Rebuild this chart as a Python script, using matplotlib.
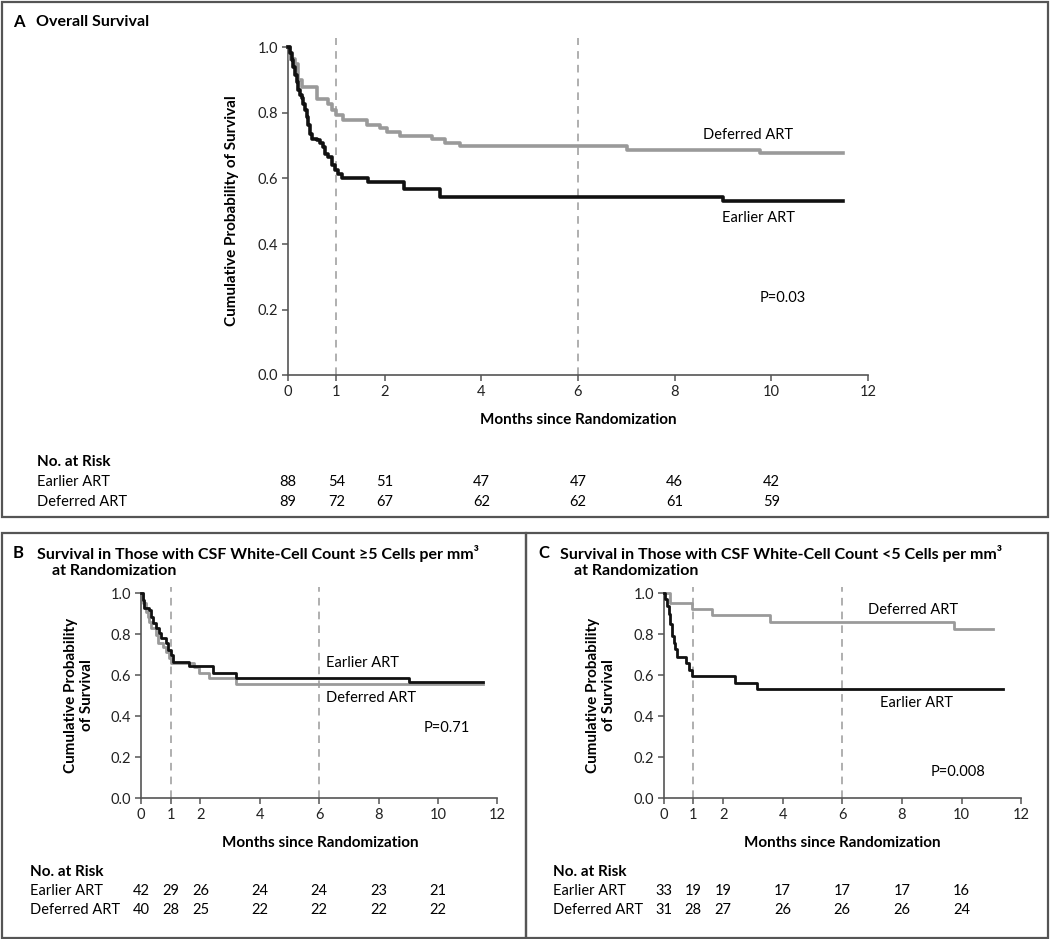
import numpy as np
import matplotlib.pyplot as plt
from matplotlib.patches import Rectangle
from matplotlib import transforms

plt.rcParams['font.family'] = ['Lato', 'DejaVu Sans']

# ---- data (months, survival probability) ----
# Panel A, overall
a_early_t = [0, 0.04, 0.076, 0.11, 0.145, 0.18, 0.214, 0.248, 0.283, 0.317, 0.352, 0.386, 0.421,
             0.455, 0.49, 0.593, 0.662, 0.731, 0.766, 0.834, 0.903, 0.972, 1.041, 1.12, 1.66,
             2.39, 3.15, 9.01, 11.49]
a_early_s = [1.0, 0.982, 0.961, 0.941, 0.916, 0.895, 0.870, 0.854, 0.847, 0.829, 0.809, 0.788, 0.763,
             0.737, 0.722, 0.717, 0.707, 0.697, 0.676, 0.666, 0.641, 0.625, 0.615, 0.600, 0.590,
             0.567, 0.544, 0.532, 0.532]
a_def_t = [0, 0.04, 0.145, 0.21, 0.28, 0.59, 0.83, 0.9, 1.0, 1.14, 1.63, 1.9, 2.04, 2.32, 2.97,
           3.25, 3.56, 7.01, 9.77, 11.49]
a_def_s = [1.0, 0.966, 0.951, 0.900, 0.878, 0.844, 0.829, 0.809, 0.793, 0.778, 0.763, 0.753, 0.742,
           0.729, 0.722, 0.709, 0.699, 0.687, 0.677, 0.677]

# Panel B, CSF WBC >= 5
b_early_t = [0, 0.056, 0.112, 0.28, 0.337, 0.393, 0.505, 0.617, 0.673, 0.842, 0.898, 1.01, 1.066,
             1.63, 2.41, 3.2, 9.03, 11.5]
b_early_s = [1.0, 0.967, 0.927, 0.919, 0.886, 0.854, 0.829, 0.805, 0.780, 0.756, 0.724, 0.699, 0.667,
             0.645, 0.613, 0.589, 0.566, 0.566]
b_def_t = [0, 0.079, 0.168, 0.224, 0.28, 0.337, 0.505, 0.561, 0.73, 0.842, 0.954, 1.01, 1.8, 1.96,
           2.3, 3.2, 11.5]
b_def_s = [1.0, 0.951, 0.911, 0.886, 0.862, 0.829, 0.797, 0.756, 0.740, 0.715, 0.683, 0.659, 0.639,
           0.610, 0.585, 0.556, 0.556]

# Panel C, CSF WBC < 5
c_early_t = [0, 0.05, 0.11, 0.17, 0.22, 0.28, 0.34, 0.39, 0.45, 0.76, 0.87, 0.95, 2.4, 3.15, 11.4]
c_early_s = [1.0, 0.97, 0.94, 0.90, 0.85, 0.79, 0.76, 0.73, 0.69, 0.66, 0.625, 0.595, 0.563, 0.535, 0.535]
c_def_t = [0, 0.22, 0.95, 1.62, 3.56, 9.76, 11.07]
c_def_s = [1.0, 0.954, 0.922, 0.894, 0.861, 0.826, 0.826]

risk_months = [0, 1, 2, 4, 6, 8, 10]
a_risk_early = [88, 54, 51, 47, 47, 46, 42]
a_risk_def = [89, 72, 67, 62, 62, 61, 59]
b_risk_early = [42, 29, 26, 24, 24, 23, 21]
b_risk_def = [40, 28, 25, 22, 22, 22, 22]
c_risk_early = [33, 19, 19, 17, 17, 17, 16]
c_risk_def = [31, 28, 27, 26, 26, 26, 24]

xticks = [0, 1, 2, 4, 6, 8, 10, 12]
yticks = [0.0, 0.2, 0.4, 0.6, 0.8, 1.0]

W, H = 1050, 939
BLACK = '#111111'
GRAY = '#9a9a9a'
AXC = '#555555'


def fx(px):
    return px / W


def fy(py):
    return 1 - py / H


fig = plt.figure(figsize=(W / 100, H / 100), dpi=100)


def panel(left, right, y0, y1, early, deferred, lw):
    # y0 = pixel row of 0.0, y1 = pixel row of 1.0
    top = y0 - 1.03 * (y0 - y1)
    ax = fig.add_axes([fx(left), fy(y0), (right - left) / W, (y0 - top) / H])
    for m in (1, 6):
        ax.axvline(m, color=GRAY, lw=1.1, ls=(0, (5, 4)), zorder=1)
    ax.step(deferred[0], deferred[1], where='post', color=GRAY, lw=lw, clip_on=False, zorder=3)
    ax.step(early[0], early[1], where='post', color=BLACK, lw=lw, clip_on=False, zorder=4)
    ax.set_xlim(0, 12)
    ax.set_ylim(0, 1.03)
    ax.set_xticks(xticks)
    ax.set_yticks(yticks)
    ax.set_yticklabels([f'{v:.1f}' for v in yticks])
    for s in ('top', 'right'):
        ax.spines[s].set_visible(False)
    ax.spines['left'].set_bounds(0, 1)
    for s in ('left', 'bottom'):
        ax.spines[s].set_color(AXC)
        ax.spines[s].set_linewidth(1.2)
    ax.tick_params(direction='out', length=4, width=1.1, color=AXC, labelsize=10.5,
                   labelcolor='#222222', pad=3)
    return ax


def risk_table(ax, xlab, ytop, early, deferred, dy):
    tr = transforms.blended_transform_factory(ax.transData, fig.transFigure)
    fig.text(fx(xlab), fy(ytop), 'No. at Risk', fontsize=11, fontweight='bold', va='center')
    fig.text(fx(xlab), fy(ytop + dy), 'Earlier ART', fontsize=10.5, va='center')
    fig.text(fx(xlab), fy(ytop + 2 * dy), 'Deferred ART', fontsize=10.5, va='center')
    for m, e, d in zip(risk_months, early, deferred):
        ax.text(m, fy(ytop + dy), str(e), transform=tr, ha='center', va='center', fontsize=10.5)
        ax.text(m, fy(ytop + 2 * dy), str(d), transform=tr, ha='center', va='center', fontsize=10.5)


# Panel A
axA = panel(288, 868, 375, 47.5, (a_early_t, a_early_s), (a_def_t, a_def_s), 2.6)
fig.text(fx(13), fy(22), 'A', fontsize=12, fontweight='bold', va='center')
fig.text(fx(36), fy(22), 'Overall Survival', fontsize=11.5, fontweight='bold', va='center')
fig.text(fx(232), fy(211), 'Cumulative Probability of Survival', fontsize=11, fontweight='bold',
         rotation=90, ha='center', va='center')
fig.text(fx(578), fy(420), 'Months since Randomization', fontsize=11, fontweight='bold',
         ha='center', va='center')
fig.text(fx(748), fy(135), 'Deferred ART', fontsize=10.5, ha='center', va='center')
fig.text(fx(758), fy(218), 'Earlier ART', fontsize=10.5, ha='center', va='center')
fig.text(fx(783), fy(298), 'P=0.03', fontsize=10.5, ha='center', va='center')
risk_table(axA, 37, 462, a_risk_early, a_risk_def, 20)

# Panel B
axB = panel(141, 497.4, 798.3, 593.3, (b_early_t, b_early_s), (b_def_t, b_def_s), 2.0)
fig.text(fx(13), fy(553), 'B', fontsize=12, fontweight='bold', va='center')
fig.text(fx(37), fy(553), 'Survival in Those with CSF White-Cell Count \u22655 Cells per mm\u00b3',
         fontsize=11.5, fontweight='bold', va='center')
fig.text(fx(52), fy(571), 'at Randomization', fontsize=11.5, fontweight='bold', va='center')
fig.text(fx(79), fy(695), 'Cumulative Probability\nof Survival', fontsize=11, fontweight='bold',
         rotation=90, ha='center', va='center', linespacing=1.15)
fig.text(fx(320), fy(843), 'Months since Randomization', fontsize=11, fontweight='bold',
         ha='center', va='center')
fig.text(fx(363), fy(663), 'Earlier ART', fontsize=10.5, ha='center', va='center')
fig.text(fx(371), fy(698), 'Deferred ART', fontsize=10.5, ha='center', va='center')
fig.text(fx(447), fy(728), 'P=0.71', fontsize=10.5, ha='center', va='center')
risk_table(axB, 30, 872.5, b_risk_early, b_risk_def, 18.5)

# Panel C
axC = panel(663.5, 1021.1, 798.3, 593.3, (c_early_t, c_early_s), (c_def_t, c_def_s), 2.0)
fig.text(fx(538), fy(553), 'C', fontsize=12, fontweight='bold', va='center')
fig.text(fx(560), fy(553), 'Survival in Those with CSF White-Cell Count <5 Cells per mm\u00b3',
         fontsize=11.5, fontweight='bold', va='center')
fig.text(fx(574), fy(571), 'at Randomization', fontsize=11.5, fontweight='bold', va='center')
fig.text(fx(601), fy(695), 'Cumulative Probability\nof Survival', fontsize=11, fontweight='bold',
         rotation=90, ha='center', va='center', linespacing=1.15)
fig.text(fx(842), fy(843), 'Months since Randomization', fontsize=11, fontweight='bold',
         ha='center', va='center')
fig.text(fx(913), fy(610), 'Deferred ART', fontsize=10.5, ha='center', va='center')
fig.text(fx(917), fy(703), 'Earlier ART', fontsize=10.5, ha='center', va='center')
fig.text(fx(958), fy(772), 'P=0.008', fontsize=10.5, ha='center', va='center')
risk_table(axC, 553, 872.5, c_risk_early, c_risk_def, 18.5)

# panel frames
for x0, y0, x1, y1 in [(1.5, 1.5, 1048, 517), (1.5, 533, 526, 937.5), (526, 533, 1048, 937.5)]:
    fig.add_artist(Rectangle((fx(x0), fy(y1)), (x1 - x0) / W, (y1 - y0) / H,
                             transform=fig.transFigure, fill=False, ec=AXC, lw=1.6))

fig.savefig('out.png', dpi=100)
